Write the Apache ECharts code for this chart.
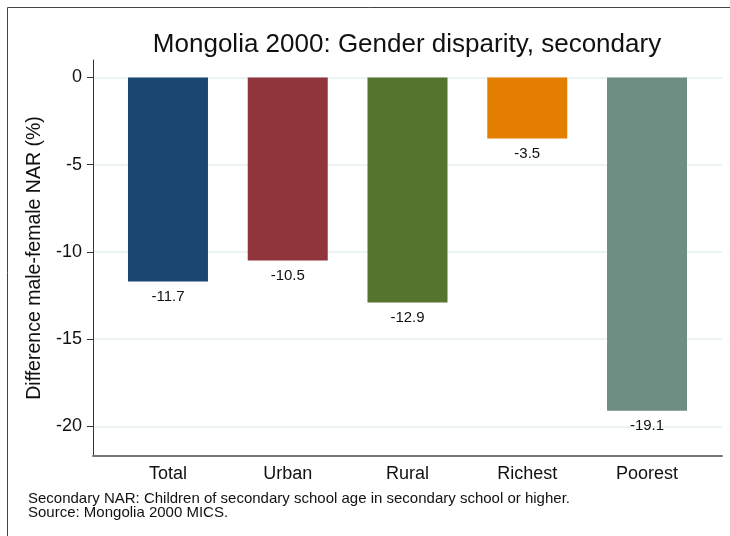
<!DOCTYPE html>
<html><head><meta charset="utf-8">
<script src="https://cdn.jsdelivr.net/npm/echarts@6/dist/echarts.min.js"></script>
<style>html,body{margin:0;padding:0;background:#fff}#c{width:730px;height:536px}</style>
</head><body><div id="c"></div>
<script>
const categories = ['Total', 'Urban', 'Rural', 'Richest', 'Poorest'];
const values = [-11.7, -10.5, -12.9, -3.5, -19.1];
const colors = ['#1a476f', '#90353b', '#55752f', '#e37e00', '#6e8e84'];
const yTicks = [0, -5, -10, -15, -20];
const positions = [1, 2, 3, 4, 5];

const chart = echarts.init(document.getElementById('c'), null, {renderer: 'canvas'});
const FONT = 'Liberation Sans, Arial, sans-serif';
chart.setOption({
  animation: false,
  backgroundColor: '#fff',
  textStyle: {fontFamily: FONT},
  title: {
    text: 'Mongolia 2000: Gender disparity, secondary',
    left: 402, top: 27, textAlign: 'center',
    textStyle: {fontSize: 26, fontWeight: 'normal', color: '#111', fontFamily: FONT}
  },
  grid: {left: 93, right: 8, top: 60, bottom: 80},
  xAxis: {
    type: 'value', min: 0.374, max: 5.626,
    axisLine: {show: true, onZero: false, lineStyle: {color: '#777', width: 2}},
    axisTick: {show: false},
    splitLine: {show: false},
    axisLabel: {
      customValues: positions,
      formatter: v => categories[positions.indexOf(v)] || '',
      fontSize: 18, color: '#111', margin: 9, fontFamily: FONT
    }
  },
  yAxis: {
    type: 'value', min: -21.7, max: 1,
    name: 'Difference male-female NAR (%)',
    nameLocation: 'middle', nameGap: 43,
    nameTextStyle: {fontSize: 19.5, color: '#111', fontFamily: FONT},
    axisLine: {show: true, lineStyle: {color: '#333', width: 1}},
    axisTick: {show: true, customValues: yTicks, length: 6, lineStyle: {color: '#333'}},
    axisLabel: {customValues: yTicks, fontSize: 18, color: '#111', margin: 11, fontFamily: FONT},
    splitLine: {show: false}
  },
  series: [{
    type: 'bar',
    barWidth: 80,
    data: values.map((v, i) => ({value: [positions[i], v], itemStyle: {color: colors[i]}})),
    label: {
      show: true, position: 'bottom', distance: 8,
      formatter: p => p.value[1].toFixed(1),
      fontSize: 15, color: '#111', fontFamily: FONT
    },
    markLine: {
      silent: true, symbol: 'none', label: {show: false},
      lineStyle: {color: '#e6eff2', width: 1.5, type: 'solid'},
      z: 0,
      data: yTicks.map(t => ({yAxis: t}))
    },
    z: 2
  }],
  graphic: [
    {type: 'text', left: 28, top: 491, style: {text: 'Secondary NAR: Children of secondary school age in secondary school or higher.\nSource: Mongolia 2000 MICS.', font: '15px ' + FONT, fill: '#111', lineHeight: 14}},
    {type: 'rect', shape: {x: 7.5, y: 7.5, width: 800, height: 600}, style: {fill: 'none', stroke: '#444', lineWidth: 1}, z: -1, silent: true}
  ]
});
</script></body></html>
